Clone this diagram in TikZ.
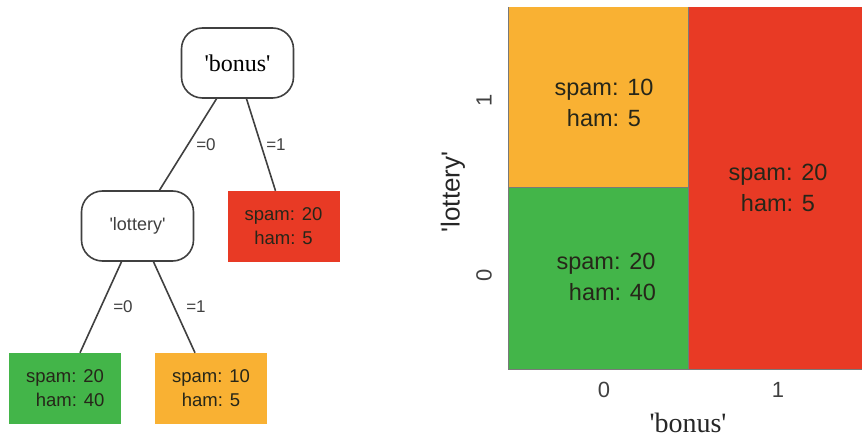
\documentclass[tikz,border=0pt]{standalone}
\usepackage{fontspec}
\setmainfont{Liberation Serif}
\setsansfont{Liberation Sans}
\definecolor{cgreen}{HTML}{43B549}
\definecolor{corange}{HTML}{F9B133}
\definecolor{cred}{HTML}{E83A25}
\definecolor{edgec}{HTML}{404040}
\definecolor{txtc}{HTML}{262619}
\newcommand{\sq}{\textquotesingle}
\begin{document}
\begin{tikzpicture}[x=1pt,y=-1pt,
  decision/.style={draw=edgec,line width=1.6pt,rounded corners=21pt,fill=white,
    minimum width=112pt,minimum height=70pt,inner sep=0pt},
  leaf/.style={minimum width=112pt,minimum height=71pt,inner sep=0pt,
    font=\sffamily\fontsize{18.5}{24}\selectfont,text=txtc,align=center},
  branch/.style={draw=edgec,line width=1.6pt},
  blabel/.style={font=\sffamily\fontsize{17}{18}\selectfont,text=edgec},
  cell/.style={draw=edgec!70,line width=0.6pt},
  celltxt/.style={font=\sffamily\fontsize{23.5}{31}\selectfont,text=txtc,align=center},
  tick/.style={font=\sffamily\fontsize{22}{24}\selectfont,text=edgec},
  axlab/.style={font=\fontsize{28}{30}\selectfont,text=black!85}
]
\useasboundingbox (0,0) rectangle (862,438);
% ---------------- tree ----------------
\node[decision,font=\fontsize{24}{26}\selectfont] (bonus) at (237.5,63) {\sq bonus\sq};
\node[decision,font=\sffamily\fontsize{18}{20}\selectfont,text=edgec] (lottery) at (137.5,226) {\sq lottery\sq};
\node[leaf,fill=cred] (red) at (283.5,226.5) {spam: 20\\ham: 5};
\node[leaf,fill=cgreen] (green) at (65,388.5) {spam: 20\\\ \ ham: 40};
\node[leaf,fill=corange] (orange) at (211,388.5) {spam: 10\\ham: 5};
\draw[branch] ([xshift=-21pt]bonus.south) -- ([xshift=22pt]lottery.north);
\draw[branch] ([xshift=9pt]bonus.south) -- ([xshift=-8pt]red.north);
\draw[branch] ([xshift=-16pt]lottery.south) -- ([xshift=15pt]green.north);
\draw[branch] ([xshift=16pt]lottery.south) -- ([xshift=-16pt]orange.north);
\node[blabel] (l1) at (206,145) {=0};
\node[blabel] (l2) at (276,145) {=1};
\node[blabel] (l3) at (123,307) {=0};
\node[blabel] (l4) at (196,307) {=1};
% ---------------- partition plot ----------------
\fill[corange] (508,7) rectangle (688,187);
\fill[cgreen] (508,187) rectangle (688,369);
\fill[cred] (688,7) rectangle (862,369);
\draw[cell] (508,187) -- (688,187);
\draw[cell] (688,7) -- (688,369);
\draw[cell] (508,7) -- (508,369) -- (862,369);
\node[celltxt] (c1) at (604,103) {spam: 10\\ham: 5};
\node[celltxt] (c2) at (606,277) {spam: 20\\\ \ ham: 40};
\node[celltxt] (c3) at (778,188) {spam: 20\\ham: 5};
\node[tick] (x0) at (604,390) {0};
\node[tick] (x1) at (778,390) {1};
\node[tick,rotate=90] (y1) at (484,100) {1};
\node[tick,rotate=90] (y0) at (484,275) {0};
\node[axlab] (xl) at (688,423) {\sq bonus\sq};
\node[font=\sffamily\fontsize{26}{28}\selectfont,text=black!85,rotate=90] (yl) at (453,192) {\sq lottery\sq};
\end{tikzpicture}
\end{document}
